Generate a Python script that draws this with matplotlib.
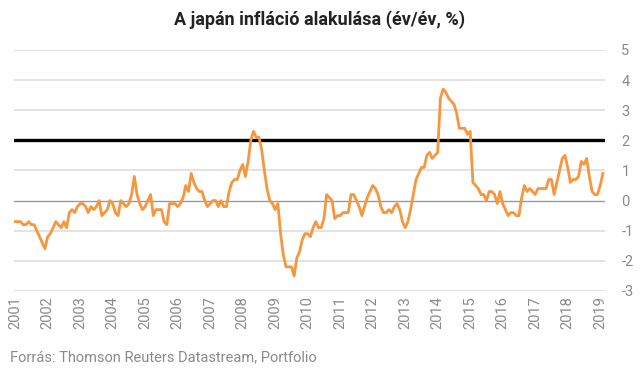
import matplotlib
matplotlib.use("Agg")
from matplotlib import pyplot as plt

# Japanese CPI, year on year %, monthly (Mar 2001 - Apr 2019)
cpi_2001 = [-0.7, -0.7, -0.7, -0.8, -0.8, -0.7, -0.8, -0.8, -1.0, -1.2]
cpi_2002 = [-1.4, -1.6, -1.2, -1.1, -0.9, -0.7, -0.8, -0.9, -0.7, -0.9, -0.4, -0.3]
cpi_2003 = [-0.4, -0.2, -0.1, -0.1, -0.2, -0.4, -0.2, -0.3, -0.2, 0.0, -0.5, -0.4]
cpi_2004 = [-0.3, 0.0, -0.1, -0.4, -0.5, 0.0, -0.1, -0.2, -0.1, 0.2, 0.8, 0.2]
cpi_2005 = [-0.1, -0.3, -0.2, 0.0, 0.2, -0.5, -0.3, -0.3, -0.3, -0.7, -0.8, -0.1]
cpi_2006 = [-0.1, -0.1, -0.2, -0.1, 0.1, 0.5, 0.3, 0.9, 0.6, 0.4, 0.3, 0.3]
cpi_2007 = [0.0, -0.2, -0.1, 0.0, 0.0, -0.2, 0.0, -0.2, -0.2, 0.3, 0.6, 0.7]
cpi_2008 = [0.7, 1.0, 1.2, 0.8, 1.3, 2.0, 2.3, 2.1, 2.1, 1.7, 1.0, 0.4]
cpi_2009 = [0.0, -0.1, -0.3, -0.1, -1.1, -1.8, -2.2, -2.2, -2.2, -2.5, -1.9, -1.7]
cpi_2010 = [-1.3, -1.1, -1.1, -1.2, -0.9, -0.7, -0.9, -0.9, -0.6, 0.2, 0.1, 0.0]
cpi_2011 = [-0.6, -0.5, -0.5, -0.4, -0.4, -0.4, 0.2, 0.2, 0.0, -0.2, -0.5, -0.2]
cpi_2012 = [0.1, 0.3, 0.5, 0.4, 0.2, -0.2, -0.4, -0.4, -0.3, -0.4, -0.2, -0.1]
cpi_2013 = [-0.3, -0.7, -0.9, -0.7, -0.3, 0.2, 0.7, 0.9, 1.1, 1.1, 1.5, 1.6]
cpi_2014 = [1.4, 1.5, 1.6, 3.4, 3.7, 3.6, 3.4, 3.3, 3.2, 2.9, 2.4, 2.4]
cpi_2015 = [2.4, 2.2, 2.3, 0.6, 0.5, 0.4, 0.2, 0.2, 0.0, 0.3, 0.3, 0.2]
cpi_2016 = [-0.1, 0.3, -0.1, -0.3, -0.5, -0.4, -0.4, -0.5, -0.5, 0.1, 0.5, 0.3]
cpi_2017 = [0.4, 0.3, 0.2, 0.4, 0.4, 0.4, 0.4, 0.7, 0.7, 0.2, 0.6, 1.0]
cpi_2018 = [1.4, 1.5, 1.1, 0.6, 0.7, 0.7, 0.8, 1.3, 1.2, 1.4, 0.8, 0.3]
cpi_2019 = [0.2, 0.2, 0.5, 0.9]

target = 2
years = [str(y) for y in range(2001, 2020)]
y_ticks = [5, 4, 3, 2, 1, 0, -1, -2, -3]

cpi = (cpi_2001 + cpi_2002 + cpi_2003 + cpi_2004 + cpi_2005 + cpi_2006
       + cpi_2007 + cpi_2008 + cpi_2009 + cpi_2010 + cpi_2011 + cpi_2012
       + cpi_2013 + cpi_2014 + cpi_2015 + cpi_2016 + cpi_2017 + cpi_2018
       + cpi_2019)
idx = list(range(len(cpi)))

plt.rcParams['font.family'] = ['Roboto', 'DejaVu Sans']

fig = plt.figure(figsize=(6.4, 3.73), dpi=100)
ax = fig.add_axes([0.022, 0.22, 0.923, 0.646])

# grid lines
for t in y_ticks:
    if t == 0:
        ax.axhline(t, color="#9a9a9a", lw=1.0, zorder=1)
    else:
        ax.axhline(t, color="#dedede", lw=1.2, zorder=1)
ax.axhline(target, color="black", lw=2.4, zorder=2)

ax.plot(idx, cpi, color="#F7963C", lw=2.0, zorder=3, solid_joinstyle="round")

ax.set_ylim(-3, 5)
ax.set_xlim(-0.4, len(cpi) - 0.3)
ax.set_yticks(y_ticks)
ax.set_yticklabels([str(t) for t in y_ticks])
ax.yaxis.tick_right()
ax.set_xticks(idx[::12])
ax.set_xticklabels(years, rotation=90)
ax.tick_params(axis="both", length=0, labelsize=10.5, labelcolor="#8a8a8a")
ax.tick_params(axis="y", pad=12)
ax.tick_params(axis="x", pad=4)
for s in ax.spines.values():
    s.set_visible(False)

fig.text(0.5, 0.948, "A japán infláció alakulása (év/év, %)", ha="center",
         va="center", fontsize=13, fontweight="bold", color="#222222")
fig.text(0.016, 0.043, "Forrás: Thomson Reuters Datastream, Portfolio",
         ha="left", va="center", fontsize=10.5, color="#8a8a8a")

fig.savefig("out.png", dpi=100)
